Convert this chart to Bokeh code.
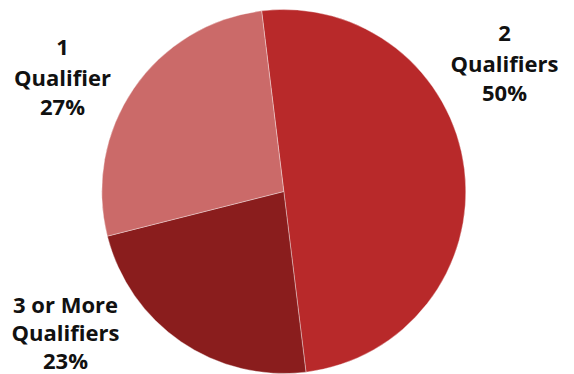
import math
from bokeh.plotting import figure
from bokeh.models import ColumnDataSource, Range1d
from bokeh.core.properties import value
from bokeh.embed import file_html
from bokeh.resources import INLINE

# ---- data ----
categories = ["2 Qualifiers", "3 or More Qualifiers", "1 Qualifier"]
shares = [50, 23, 27]
name_lines = [["2", "Qualifiers"], ["3 or More", "Qualifiers"], ["1", "Qualifier"]]
colors = ["#B8292A", "#8A1D1D", "#CB6A69"]

# ---- layout ----
W, H = 574, 374
start_deg = 97.0  # angle where first slice starts (counter-clockwise from +x)


def sx(x):
    return x


def sy(y):
    return H - y


cx, cy, radius = sx(283.3), sy(191), 182
# screen positions (center of middle line) and line spacing for each label
label_anchor = [(504, 62), (65, 331), (62, 76)]
line_gaps = [29, 28, 29]

total = sum(shares)
starts, ends = [], []
a = math.radians(start_deg)
for v in shares:
    span = 2 * math.pi * v / total
    starts.append(a)
    ends.append(a - span)
    a -= span

src = ColumnDataSource(dict(cat=categories, val=shares, start=starts, end=ends, color=colors))

p = figure(width=W, height=H, output_backend="svg", toolbar_location=None,
           x_range=Range1d(0, W), y_range=Range1d(0, H), min_border=0)
p.axis.visible = False
p.grid.visible = False
p.outline_line_color = None
p.background_fill_color = "white"

p.wedge(x=cx, y=cy, radius=radius, start_angle="start", end_angle="end",
        direction="clock", fill_color="color", line_color="white",
        line_width=0.6, line_alpha=0.6, source=src)

tx, ty, tt = [], [], []
for i, cat in enumerate(categories):
    lines = name_lines[i] + [f"{shares[i]}%"]
    ax, ay = label_anchor[i]
    for j, ln in enumerate(lines):
        tx.append(sx(ax))
        ty.append(sy(ay + (j - 1) * line_gaps[i]))
        tt.append(ln)

p.text(x=tx, y=ty, text=tt, text_align="center", text_baseline="middle",
       text_font=value("Open Sans"), text_font_style="bold",
       text_font_size="22px", text_color="#111111")

open("out.html", "w").write(file_html(p, INLINE))
